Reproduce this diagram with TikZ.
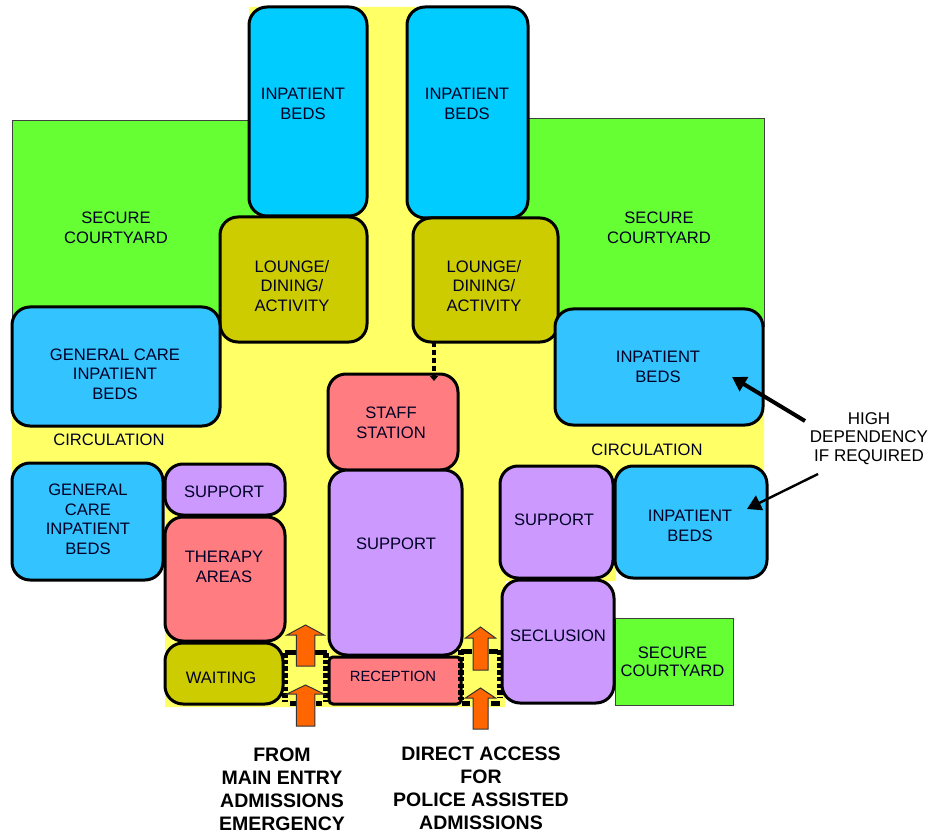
\documentclass[tikz,border=0pt]{standalone}
\usepackage{fontspec}
\setmainfont{Liberation Sans}
\usetikzlibrary{arrows.meta,calc}
\definecolor{yardgreen}{HTML}{66FF33}
\definecolor{bedsA}{HTML}{00CCFF}
\definecolor{bedsB}{HTML}{33C4FF}
\definecolor{olive}{HTML}{CCCC00}
\definecolor{pinkroom}{HTML}{FF7C80}
\definecolor{purpleroom}{HTML}{CC99FF}
\definecolor{corridor}{HTML}{FFFF66}
\definecolor{arroworange}{HTML}{FF6600}
\tikzset{
  room/.style={draw=black,line width=3pt,rounded corners=18pt,inner sep=0pt,outer sep=0pt},
  yard/.style={draw=black!75,fill=yardgreen,line width=1pt},
  lbl/.style={align=center,inner sep=0pt,yshift=-1pt,text=black!85!blue,font=\fontsize{16.6}{19.5}\selectfont},
  boldlbl/.style={align=center,inner sep=0pt,text=black,font=\fontsize{19.5}{23}\selectfont\bfseries},
  doorwall/.style={draw=black,line width=6pt,dash pattern=on 4.5pt off 2.2pt},
  doorstub/.style={draw=black,line width=5pt},
  dep/.style={draw=black,-{Triangle[length=14pt,width=16pt]}},
  blockarrow/.style={draw=black!80,fill=arroworange,line width=1pt}
}
\newcommand{\room}[6][]{%
  \pgfmathsetmacro{\rcx}{(#3+#5)/2}%
  \pgfmathsetmacro{\rcy}{(#4+#6)/2}%
  \pgfmathsetmacro{\rw}{#5-#3}%
  \pgfmathsetmacro{\rh}{#6-#4}%
  \node[room,fill=#1,minimum width=\rw pt,minimum height=\rh pt] (#2) at (\rcx,\rcy) {};}
\newcommand{\uparrowblock}[5]{% x, tip, base, bottom, half width of head
  \draw[blockarrow] (#1,#2) -- (#1+#5,#3) -- (#1+#5*0.5,#3) -- (#1+#5*0.5,#4)
    -- (#1-#5*0.5,#4) -- (#1-#5*0.5,#3) -- (#1-#5,#3) -- cycle;}
\begin{document}
\begin{tikzpicture}[x=1pt,y=-1pt]
\useasboundingbox (0,0) rectangle (929,834);
% corridor
\fill[corridor] (249,7) -- (420,7) -- (420,200) -- (540,200) -- (540,310) -- (764,310)
  -- (764,485) -- (616,485) -- (616,581) -- (505,581) -- (505,707) -- (165,707)
  -- (165,485) -- (12,485) -- (12,310) -- (249,310) -- cycle;
% courtyards
\draw[yard] (255,121) -- (12,121) -- (12,327) -- (255,327);
\draw[yard] (520,119) -- (764,119) -- (764,327) -- (520,327);
\node[yard,minimum width=118pt,minimum height=87pt,inner sep=0pt] (yardS) at (674,661.5) {};
% rooms
\room[bedsA]{bedsUL}{249}{7}{367}{216}
\room[bedsA]{bedsUR}{407}{7}{528}{218}
\room[olive]{loungeL}{220}{217}{367}{342}
\room[olive]{loungeR}{413}{218}{558}{342}
\room[bedsB]{careU}{12}{307}{220}{426}
\room[bedsB]{bedsR}{555}{309}{763}{425}
\room[pinkroom]{staff}{328}{374}{458}{470}
\room[purpleroom]{supC}{329}{470}{462}{655}
\room[bedsB]{careL}{12}{463}{163}{580}
\room[purpleroom]{supS}{165}{464}{285}{515}
\room[pinkroom]{therapy}{165}{517}{285}{641}
\room[olive]{waiting}{165}{643}{283}{704}
\room[purpleroom]{supR}{500}{466}{613}{578}
\room[bedsB]{bedsL}{615}{466}{767}{578}
\room[purpleroom]{secl}{502}{580}{614}{703}
\node[room,fill=pinkroom,rounded corners=4pt,minimum width=132pt,minimum height=47pt] (recep) at (395,680.5) {};
% door walls
\draw[doorwall] (285,653) -- (285,702);
\draw[doorwall] (326,653) -- (326,702);
\draw[doorstub] (285,652) -- (297,652);
\draw[doorstub] (314,652) -- (327,652);
\draw[doorwall] (461,650) -- (461,700);
\draw[doorwall] (500,650) -- (500,698);
\draw[doorstub] (461,651) -- (472,651);
\draw[doorstub] (489,651) -- (498,651);
\draw[doorstub] (290,703) -- (296,703);
\draw[doorstub] (316,703) -- (322,703);
\draw[doorstub] (462,703) -- (470,703);
\draw[doorstub] (491,703) -- (500,703);
% block arrows
\uparrowblock{305.5}{625}{635}{666}{18.5}
\uparrowblock{305.5}{685}{694}{726}{18.5}
\uparrowblock{480.5}{627}{638}{670}{15}
\uparrowblock{480.5}{688}{698}{729}{15}
% staff link
\draw[black,line width=3.4pt,dash pattern=on 5pt off 3pt,-{Triangle[length=5pt,width=8pt]}]
  ([xshift=41pt]loungeR.south west -| staff.north) -- ([xshift=41pt,yshift=-7pt]staff.north);
% labels
\node[lbl] (tBedsUL) at (303,103) {INPATIENT\\BEDS};
\node[lbl] (tBedsUR) at (467,103) {INPATIENT\\BEDS};
\node[lbl] (tYardL) at (116,227) {SECURE\\COURTYARD};
\node[lbl] (tYardR) at (659,227) {SECURE\\COURTYARD};
\node[lbl] (tLoungeL) at (292,285) {LOUNGE/\\DINING/\\ACTIVITY};
\node[lbl] (tLoungeR) at (484,285) {LOUNGE/\\DINING/\\ACTIVITY};
\node[lbl] (tCareU) at (115,373) {GENERAL CARE\\INPATIENT\\BEDS};
\node[lbl] (tBedsR) at (658,366) {INPATIENT\\BEDS};
\node[lbl] (tCircL) at (109,439) {CIRCULATION};
\node[lbl] (tCircR) at (647,449) {CIRCULATION};
\node[lbl] (tStaff) at (391,422) {STAFF\\STATION};
\node[lbl] (tSupC) at (396,543) {SUPPORT};
\node[lbl,font=\fontsize{14.8}{18}\selectfont] (tRecep) at (393,675) {RECEPTION};
\node[lbl] (tCareL) at (88,518.5) {GENERAL\\CARE\\INPATIENT\\BEDS};
\node[lbl] (tSupS) at (224,491) {SUPPORT};
\node[lbl] (tTherapy) at (224,566) {THERAPY\\AREAS};
\node[lbl] (tWait) at (221,677) {WAITING};
\node[lbl] (tSupR) at (554,519) {SUPPORT};
\node[lbl] (tBedsL) at (690,525) {INPATIENT\\BEDS};
\node[lbl] (tSecl) at (558,635) {SECLUSION};
\node[lbl,font=\fontsize{16.6}{18.5}\selectfont] (tYardS) at (672.5,661) {SECURE\\COURTYARD};
\node[lbl,text=black,font=\fontsize{17}{18.6}\selectfont] (tHigh) at (869,437.5) {HIGH\\DEPENDENCY\\IF REQUIRED};
% dependency arrows
\coordinate (depA) at (805,421);
\coordinate (tipA) at (732,377);
\coordinate (depB) at (818,474);
\coordinate (tipB) at (747,509);
\draw[dep,line width=4pt] (depA) -- (tipA);
\draw[dep,line width=2.4pt] (depB) -- (tipB);
% bottom captions
\node[boldlbl] (tFrom) at (282,789) {FROM\\MAIN ENTRY\\ADMISSIONS\\EMERGENCY};
\node[boldlbl] (tDirect) at (481,788.5) {DIRECT ACCESS\\FOR\\POLICE ASSISTED\\ADMISSIONS};
\end{tikzpicture}
\end{document}
